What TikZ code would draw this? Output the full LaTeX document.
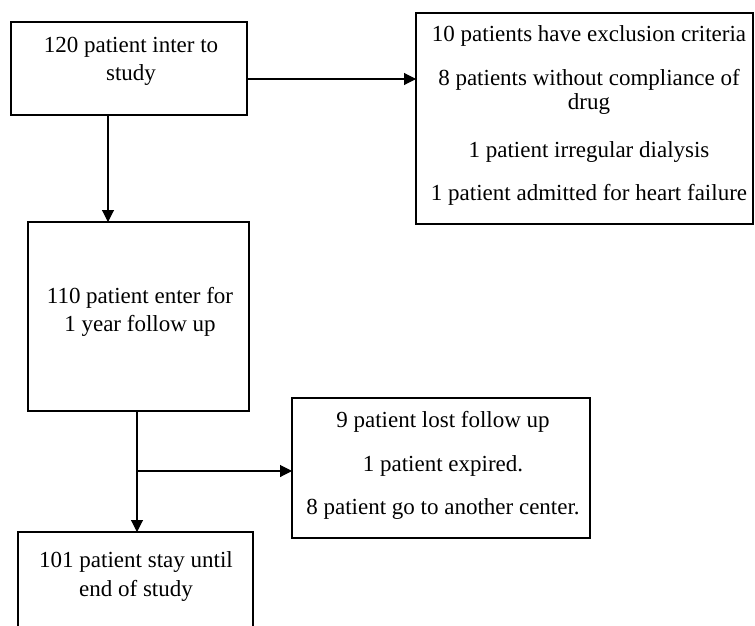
\documentclass[tikz,border=0pt]{standalone}
\usepackage{fontspec}
\setmainfont{Liberation Serif}
\usetikzlibrary{arrows.meta}
\begin{document}
\begin{tikzpicture}[x=1pt,y=-1pt,
  box/.style={draw, line width=2.8pt, anchor=north west, inner sep=0pt, outer sep=0pt},
  txt/.style={anchor=base, inner sep=0pt, font=\fontsize{23}{28}\selectfont},
  conn/.style={line width=1.1pt, -{Triangle[length=12pt,width=12pt]}}]
\useasboundingbox (0,0) rectangle (755,626);
\clip (0,0) rectangle (755,626);
% boxes
\node[box, minimum width=236pt, minimum height=93pt] (b1) at (11,22) {};
\node[box, minimum width=337pt, minimum height=211pt] (b2) at (416,13) {};
\node[box, minimum width=221pt, minimum height=189pt] (b3) at (28,222) {};
\node[box, minimum width=235pt, minimum height=150pt] (b4) at (18,532) {};
\node[box, minimum width=298pt, minimum height=140pt] (b5) at (292,398) {};
% texts
\node[txt] (t1a) at (131,53) {120 patient inter to};
\node[txt] (t1b) at (131,81) {study};
\node[txt] (t2a) at (589,42) {10 patients have exclusion criteria};
\node[txt] (t2b) at (589,85) {8 patients without compliance of};
\node[txt] (t2c) at (589,110) {drug};
\node[txt] (t2d) at (589,157) {1 patient irregular dialysis};
\node[txt] (t2e) at (589,200) {1 patient admitted for heart failure};
\node[txt] (t3a) at (140,303) {110 patient enter for};
\node[txt] (t3b) at (140,331) {1 year follow up};
\node[txt] (t4a) at (136,567) {101 patient stay until};
\node[txt] (t4b) at (136,596) {end of study};
\node[txt] (t5a) at (443,427) {9 patient lost follow up};
\node[txt] (t5b) at (443,471) {1 patient expired.};
\node[txt] (t5c) at (443,514) {8 patient go to another center.};
% connectors
\coordinate (k1) at (108,0);
\draw[conn] (b1.south -| k1) -- (b3.north -| k1);
\coordinate (k2) at (0,79);
\draw[conn] (b1.east |- k2) -- (b2.west |- k2);
\coordinate (k3) at (137,0);
\draw[conn] (b3.south -| k3) -- (b4.north -| k3);
\coordinate (j) at (137,471);
\draw[conn] (j) -- (b5.west |- j);
\end{tikzpicture}
\end{document}
